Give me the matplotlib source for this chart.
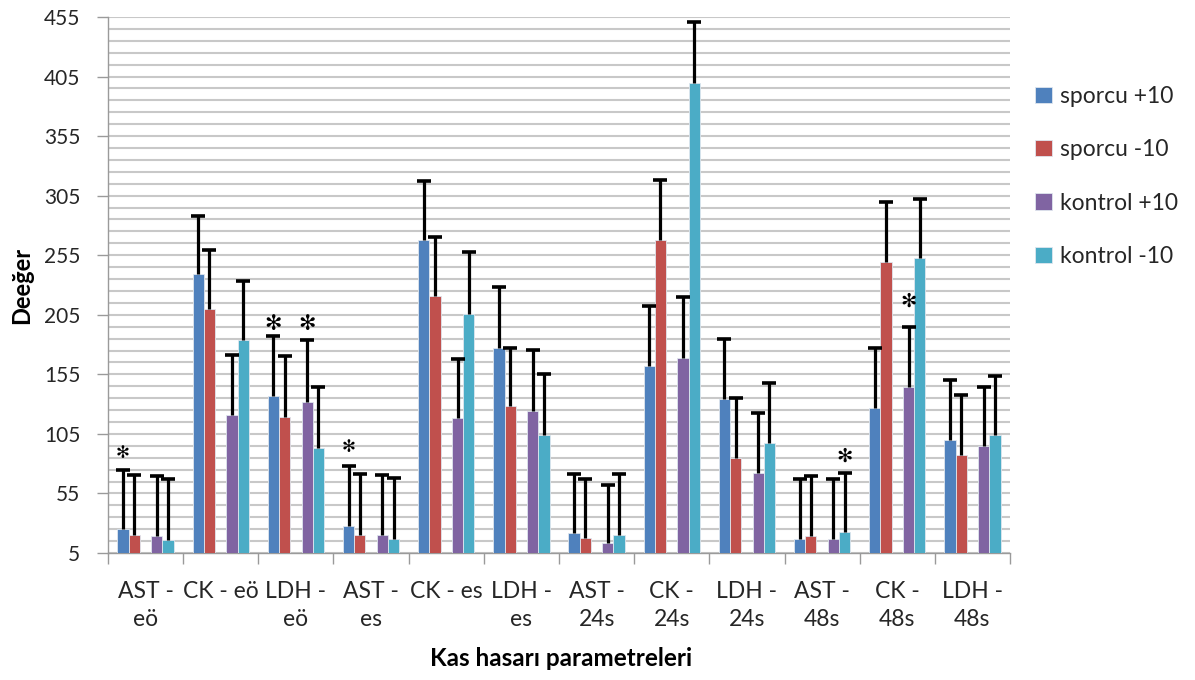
import numpy as np
import matplotlib
matplotlib.use("Agg")
import matplotlib.pyplot as plt
from matplotlib.patches import Patch

plt.rcParams['font.family'] = ['Lato', 'DejaVu Sans']

categories = ["AST -\neö", "CK - eö", "LDH -\neö", "AST -\nes", "CK - es", "LDH -\nes",
              "AST -\n24s", "CK -\n24s", "LDH -\n24s", "AST -\n48s", "CK -\n48s", "LDH -\n48s"]
series_names = ["sporcu +10", "sporcu -10", "kontrol +10", "kontrol -10"]

# bar heights
sporcu_p10 = [25, 239, 137, 28, 268, 177, 21.5, 162, 134, 17, 127, 100]
sporcu_m10 = [20.5, 210, 119, 20.5, 220.5, 128, 18, 268, 85, 19.5, 249, 87]
kontrol_p10 = [19.5, 121, 132, 20.5, 118, 124.5, 13, 169, 72, 17, 144, 94.5]
kontrol_m10 = [16, 184, 93.5, 17, 206, 104, 20, 400, 97.5, 22.5, 253, 104]

# top of the (upper) error bars
sporcu_p10_err = [74.5, 288, 187.5, 78, 317, 228, 71, 212, 185, 67, 177.5, 150.5]
sporcu_m10_err = [70.5, 259.5, 170, 71, 270, 177.5, 67.5, 318.5, 135.5, 70, 300, 137.5]
kontrol_p10_err = [69.5, 171, 183.5, 70.5, 168, 175.5, 62.5, 220, 122.5, 67, 195, 144]
kontrol_m10_err = [67, 233.5, 144, 68, 257.5, 155, 71, 450.5, 147.5, 72, 302, 153.5]

# significance marks: (category index, series index, y, size)
stars = [(0, 0, 89, 12), (2, 0, 197, 15), (2, 2, 197, 15), (3, 0, 94, 12),
         (9, 3, 86, 14), (10, 2, 216, 14)]

colors = ['#4F81BD', '#C0504D', '#8064A2', '#4BACC6']
values = [sporcu_p10, sporcu_m10, kontrol_p10, kontrol_m10]
errtops = [sporcu_p10_err, sporcu_m10_err, kontrol_p10_err, kontrol_m10_err]

fig = plt.figure(figsize=(11.95, 6.8), dpi=100)
ax = fig.add_axes([108/1195, 1-553/680, 902/1195, 536/680])

x = np.arange(len(categories))
w = 0.15
# blue, red, (empty slot), purple, cyan
offsets = [-2*w, -w, w, 2*w]
base = 5

for i in range(4):
    v = np.array(values[i])
    e = np.array(errtops[i])
    xs = x + offsets[i]
    ax.bar(xs, v - base, bottom=base, width=w, color=colors[i], edgecolor='#dfe6ee',
           linewidth=0.6, zorder=3)
    # only the upper half of the error bar, cap on top
    ax.vlines(xs, v, e, color='black', linewidth=2.3, zorder=4)
    ax.plot(xs, e, ls='none', marker='_', markersize=9.5, mew=2.6, color='black', zorder=4)

for ci, si, yv, fs in stars:
    ax.text(ci + offsets[si], yv, '\u273b', ha='center', va='center', fontsize=fs,
            fontweight='bold', color='black', family='DejaVu Sans', zorder=5)

ax.set_xlim(-0.5, len(categories) - 0.5)
ax.set_ylim(5, 455)
ax.set_yticks(np.arange(5, 456, 50))
ax.set_yticks(np.arange(5, 456, 10), minor=True)
ax.grid(axis='y', which='both', color='#c8c8c8', linewidth=1.5, zorder=0)
ax.set_axisbelow(True)

ax.set_xticks(x)
ax.set_xticklabels(categories, fontsize=16.5, color='#262626', linespacing=1.45)
ax.set_xticks(np.arange(-0.5, len(categories), 1), minor=True)
ax.tick_params(axis='x', which='major', length=0, pad=20)
ax.tick_params(axis='x', which='minor', length=8, color='#9a9a9a', width=1)
ax.tick_params(axis='y', which='major', length=8, color='#9a9a9a', width=1,
               labelsize=15, labelcolor='#262626', pad=12)
ax.tick_params(axis='y', which='minor', length=0)

for s in ['top', 'right']:
    ax.spines[s].set_visible(False)
for s in ['left', 'bottom']:
    ax.spines[s].set_color('#9a9a9a')
    ax.spines[s].set_linewidth(1)

ax.set_ylabel('Deeğer', fontsize=17, fontweight='bold', color='black')
ax.yaxis.set_label_coords(-0.083, 0.5)
ax.set_xlabel('Kas hasarı parametreleri', fontsize=17.5, fontweight='bold', color='black')
ax.xaxis.set_label_coords(0.502, -0.175)

handles = [Patch(facecolor=c, edgecolor='#dfe6ee', linewidth=0.6) for c in colors]
fig.legend(handles, series_names, loc='center left', bbox_to_anchor=(1024/1195, 1-176.5/680),
           frameon=False, fontsize=16.5, handlelength=0.7, handleheight=0.7,
           handletextpad=0.35, labelspacing=1.4, borderpad=0, labelcolor='#262626')

fig.savefig('out.png', dpi=100)
